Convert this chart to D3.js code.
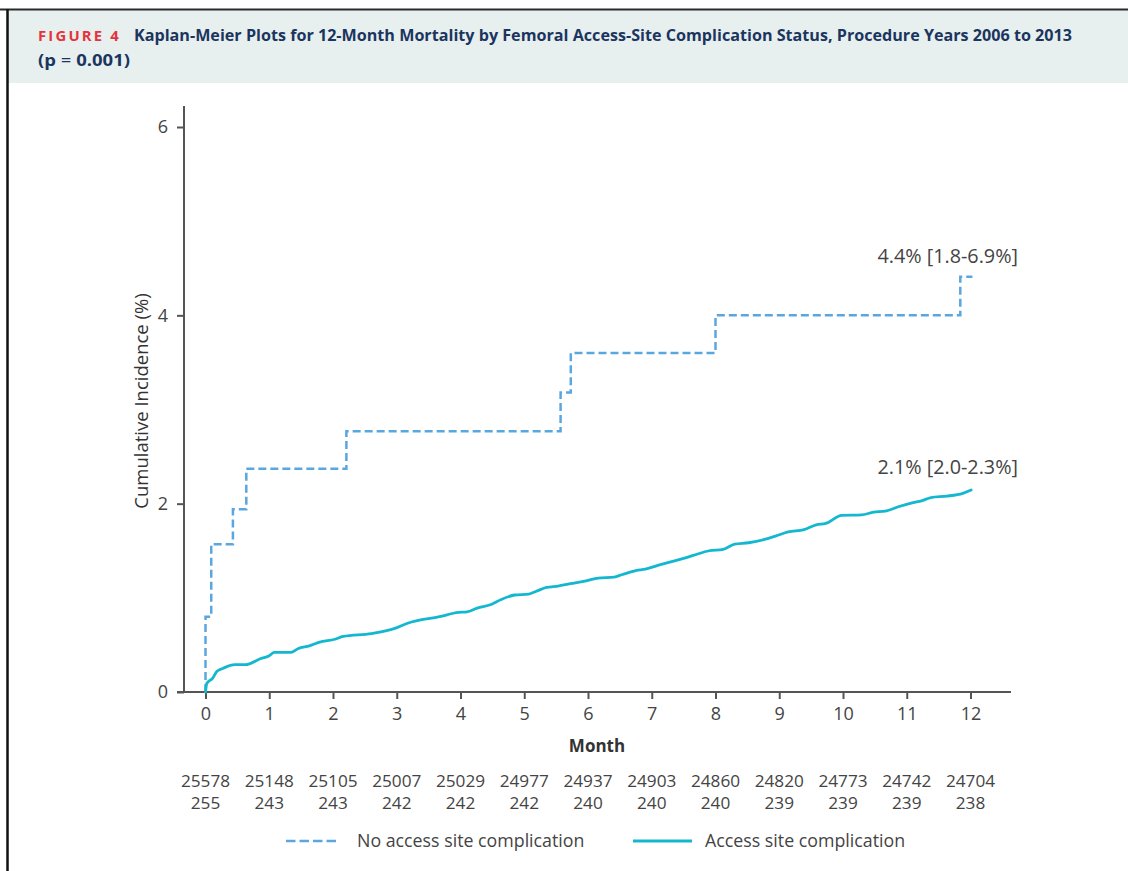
<!DOCTYPE html>
<html>
<head>
<meta charset="utf-8">
<script src="https://cdn.jsdelivr.net/npm/d3@7"></script>
<style>
  html, body { margin: 0; padding: 0; background: #ffffff; }
  svg { display: block; }
</style>
</head>
<body>
<div id="chart"></div>
<script>
// ---------------- DATA ----------------
const seriesNames = ["No access site complication", "Access site complication"];

// Dashed step curve (Kaplan-Meier steps)
const noCompTimes  = [0, 0,    0.09, 0.43, 0.64, 2.21, 5.57, 5.73, 8.00, 11.84, 12.03];
const noCompValues = [0, 0.80, 1.57, 1.94, 2.37, 2.77, 3.18, 3.60, 4.00, 4.41,  4.41];

// Solid curve
const compTimes  = [0, 0.02, 0.11, 0.18, 0.27, 0.46, 0.63, 0.85, 1.00, 1.08, 1.34, 1.45, 1.63, 1.79, 2.03, 2.16, 2.60, 2.97, 3.17, 3.67, 3.97, 4.10, 4.26, 4.48, 4.63, 4.85, 5.07, 5.19, 5.35, 5.53, 5.72, 5.97, 6.16, 6.41, 6.53, 6.75, 6.90, 7.12, 7.40, 7.65, 7.90, 8.12, 8.30, 8.52, 8.77, 8.96, 9.14, 9.39, 9.58, 9.73, 9.98, 10.29, 10.48, 10.66, 10.88, 11.10, 11.23, 11.38, 11.63, 11.88, 12.01];
const compValues = [0, 0.09, 0.145, 0.22, 0.25, 0.29, 0.29, 0.35, 0.385, 0.42, 0.42, 0.46, 0.49, 0.53, 0.56, 0.59, 0.62, 0.675, 0.73, 0.80, 0.845, 0.85, 0.89, 0.93, 0.98, 1.03, 1.04, 1.07, 1.11, 1.125, 1.15, 1.18, 1.21, 1.22, 1.245, 1.29, 1.305, 1.35, 1.40, 1.45, 1.50, 1.515, 1.57, 1.585, 1.62, 1.66, 1.70, 1.725, 1.775, 1.79, 1.875, 1.88, 1.91, 1.92, 1.97, 2.01, 2.03, 2.065, 2.08, 2.11, 2.145];

const xTickValues = [0, 1, 2, 3, 4, 5, 6, 7, 8, 9, 10, 11, 12];
const yTickValues = [0, 2, 4, 6];

const atRiskNoComp = [25578, 25148, 25105, 25007, 25029, 24977, 24937, 24903, 24860, 24820, 24773, 24742, 24704];
const atRiskComp   = [255, 243, 243, 242, 242, 242, 240, 240, 240, 239, 239, 239, 238];

const endLabels = ["4.4% [1.8-6.9%]", "2.1% [2.0-2.3%]"];
const endLabelValues = [4.4, 2.1];

const titleLabel = "FIGURE 4";
const titleLine1 = "Kaplan-Meier Plots for 12-Month Mortality by Femoral Access-Site Complication Status, Procedure Years 2006 to 2013";

// ---------------- LAYOUT ----------------
const W = 1128, H = 871;
const colDash = "#5aa7e0";
const colSolid = "#13b7cf";
const axisCol = "#555555";
const textCol = "#444444";
const navy = "#1b355f";
const red = "#e5323b";
const font = "'Open Sans', 'Noto Sans', sans-serif";

const svg = d3.select("#chart").append("svg")
  .attr("width", W).attr("height", H);

svg.append("rect").attr("width", W).attr("height", H).attr("fill", "#fff");

// Title banner
svg.append("rect").attr("x", 8).attr("y", 10).attr("width", W - 8).attr("height", 73).attr("fill", "#e8f0ef");
svg.append("line").attr("x1", 0).attr("x2", W).attr("y1", 9.5).attr("y2", 9.5).attr("stroke", "#2a2a2a").attr("stroke-width", 2);
svg.append("line").attr("x1", 7.5).attr("x2", 7.5).attr("y1", 9).attr("y2", H).attr("stroke", "#111").attr("stroke-width", 2.5);

svg.append("text").attr("x", 38).attr("y", 40.5)
  .attr("font-family", font).attr("font-weight", 700).attr("font-size", 13.5)
  .attr("fill", red).attr("letter-spacing", 2)
  .attr("textLength", 83).attr("lengthAdjust", "spacingAndGlyphs")
  .text(titleLabel);

svg.append("text").attr("x", 134).attr("y", 40.5)
  .attr("font-family", font).attr("font-weight", 700).attr("font-size", 15.5).attr("fill", navy)
  .attr("textLength", 938).attr("lengthAdjust", "spacingAndGlyphs")
  .text(titleLine1);

const t2 = svg.append("text").attr("x", 38).attr("y", 66)
  .attr("font-family", font).attr("font-weight", 700).attr("font-size", 15.5).attr("fill", navy)
  .attr("textLength", 92).attr("lengthAdjust", "spacingAndGlyphs");
t2.append("tspan").text("(p ");
t2.append("tspan").attr("font-weight", 400).text("=");
t2.append("tspan").text(" 0.001)");

// Scales
const x = d3.scaleLinear().domain([0, 12]).range([205.5, 970.5]);
const y = d3.scaleLinear().domain([0, 6]).range([692, 127]);

// Axes
const axisX = 184;
const gy = svg.append("g").attr("transform", `translate(${axisX},0)`)
  .call(d3.axisLeft(y).tickValues(yTickValues).tickSize(7).tickPadding(9).tickFormat(d3.format("d")));
gy.select(".domain").remove();
gy.append("line").attr("x1", 0).attr("x2", 0).attr("y1", 106).attr("y2", y(0) + 1).attr("stroke", axisCol).attr("stroke-width", 2);

const gx = svg.append("g").attr("transform", `translate(0,${y(0)})`)
  .call(d3.axisBottom(x).tickValues(xTickValues).tickSize(7).tickPadding(8).tickFormat(d3.format("d")));
gx.select(".domain").remove();
gx.append("line").attr("x1", 177).attr("x2", 1011).attr("y1", 0).attr("y2", 0).attr("stroke", axisCol).attr("stroke-width", 2);

[gx, gy].forEach(g => {
  g.selectAll(".tick line").attr("stroke", axisCol).attr("stroke-width", 2);
  g.selectAll(".tick text").attr("fill", textCol).attr("font-family", font).attr("font-size", 18);
});

// Axis titles
svg.append("text").attr("transform", `translate(140,401) rotate(-90)`)
  .attr("text-anchor", "middle").attr("dominant-baseline", "central")
  .attr("font-family", font).attr("font-size", 18.5).attr("fill", "#333").text("Cumulative Incidence (%)");

svg.append("text").attr("x", 597).attr("y", 745).attr("text-anchor", "middle").attr("dominant-baseline", "central")
  .attr("font-family", font).attr("font-size", 17).attr("font-weight", 700).attr("fill", "#333").text("Month");

// Curves
const noCompData = noCompTimes.map((t, i) => ({ t, v: noCompValues[i] }));
const compData = compTimes.map((t, i) => ({ t, v: compValues[i] }));

svg.append("path").datum(noCompData)
  .attr("d", d3.line().x(d => x(d.t)).y(d => y(d.v)).curve(d3.curveStepAfter))
  .attr("fill", "none").attr("stroke", colDash).attr("stroke-width", 2.5).attr("stroke-dasharray", "8,4");

svg.append("path").datum(compData)
  .attr("d", d3.line().x(d => x(d.t)).y(d => y(d.v)).curve(d3.curveMonotoneX))
  .attr("fill", "none").attr("stroke", colSolid).attr("stroke-width", 2.8).attr("stroke-linejoin", "round").attr("stroke-linecap", "round");

// End labels
const endOffsets = [-22, -28];
endLabels.forEach((s, i) => {
  svg.append("text").attr("x", 1018).attr("y", y(endLabelValues[i]) + endOffsets[i])
    .attr("text-anchor", "end").attr("dominant-baseline", "central")
    .attr("font-family", font).attr("font-size", 19.8).attr("fill", textCol).text(s);
});

// Numbers at risk
[atRiskNoComp, atRiskComp].forEach((arr, r) => {
  svg.append("g").selectAll("text").data(arr).join("text")
    .attr("x", (d, i) => x(xTickValues[i]))
    .attr("y", r === 0 ? 780 : 802)
    .attr("text-anchor", "middle").attr("dominant-baseline", "central")
    .attr("font-family", font).attr("font-size", 17.2).attr("fill", textCol)
    .text(d => d);
});

// Legend
const lg = svg.append("g");
lg.append("line").attr("x1", 286).attr("x2", 337).attr("y1", 841).attr("y2", 841)
  .attr("stroke", colDash).attr("stroke-width", 2.5).attr("stroke-dasharray", "9.5,4");
lg.append("text").attr("x", 357).attr("y", 840).attr("dominant-baseline", "central")
  .attr("font-family", font).attr("font-size", 17.8).attr("fill", textCol).text(seriesNames[0]);
lg.append("line").attr("x1", 633).attr("x2", 692).attr("y1", 841).attr("y2", 841)
  .attr("stroke", colSolid).attr("stroke-width", 2.8);
lg.append("text").attr("x", 705).attr("y", 840).attr("dominant-baseline", "central")
  .attr("font-family", font).attr("font-size", 17.8).attr("fill", textCol).text(seriesNames[1]);
</script>
</body>
</html>
